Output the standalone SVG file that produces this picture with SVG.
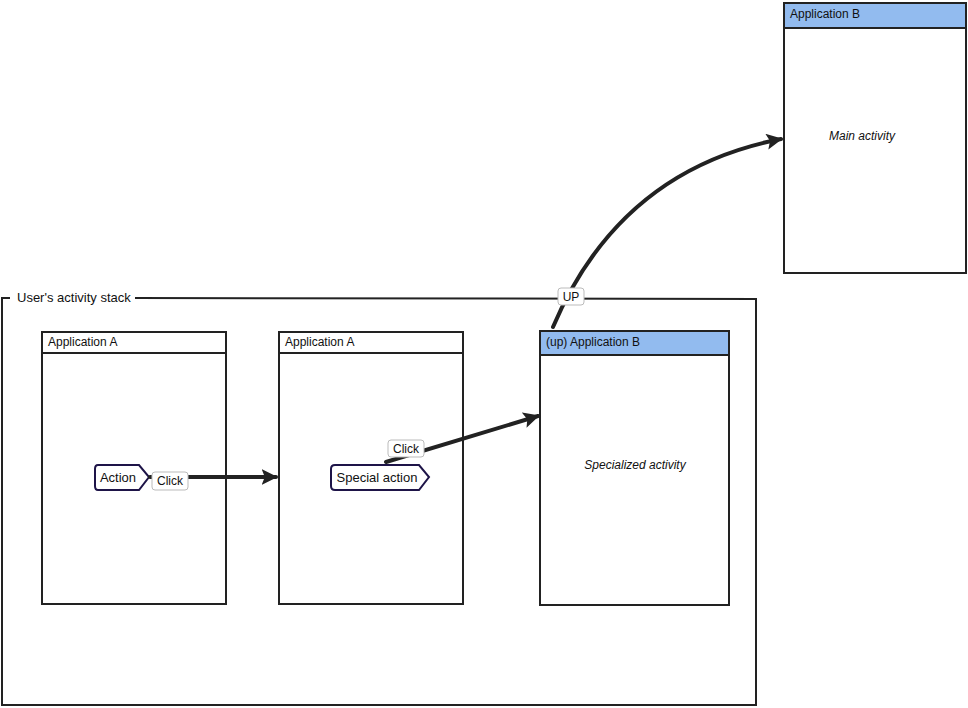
<svg xmlns="http://www.w3.org/2000/svg" width="968" height="708" viewBox="0 0 968 708">
<defs>
<style>
text{font-family:"Liberation Sans",Arial,sans-serif;font-size:12px;fill:#111}
.big{font-size:13px}
.box{fill:#fff;stroke:#222;stroke-width:2}
.hdr{fill:#fff;stroke:#222;stroke-width:2}
.hdrb{fill:#92bbef;stroke:#222;stroke-width:2}
.it{font-style:italic}
.lbl{fill:#fff;stroke:#bbb;stroke-width:1}
.conn{fill:none;stroke:#222;stroke-width:4;stroke-linecap:round}
.btn{fill:#fff;stroke:#1e1448;stroke-width:2}
</style>
<marker id="ah" viewBox="0 0 10 10" refX="9" refY="5" markerWidth="4" markerHeight="4" orient="auto" markerUnits="strokeWidth">
<path d="M0,0 L10,5 L0,10 L2,5 Z" fill="#222"/>
</marker>
</defs>
<rect width="968" height="708" fill="#fff"/>
<g id="stack">
<path d="M10,298 L2,298 L2,705 L756,705 L756,299 L135,298" fill="none" stroke="#222" stroke-width="2"/>
<text class="big" x="17" y="302">User's activity stack</text>
</g>
<g id="appA1">
<rect class="box" x="42" y="332" width="184" height="272"/>
<rect class="hdr" x="42" y="332" width="184" height="21"/>
<text x="48" y="346">Application A</text>
</g>
<g id="appA2">
<rect class="box" x="279" y="332" width="184" height="272"/>
<rect class="hdr" x="279" y="332" width="184" height="21"/>
<text x="285" y="346">Application A</text>
</g>
<g id="appBup">
<rect class="box" x="540" y="331" width="189" height="274"/>
<rect class="hdrb" x="540" y="331" width="189" height="24"/>
<text x="546" y="346">(up) Application B</text>
<text class="it" x="635" y="469" text-anchor="middle">Specialized activity</text>
</g>
<g id="appBmain">
<rect class="box" x="784" y="3" width="182" height="270"/>
<rect class="hdrb" x="784" y="3" width="182" height="25"/>
<text x="790" y="18">Application B</text>
<text class="it" x="862" y="140" text-anchor="middle">Main activity</text>
</g>
<g id="action">
<path class="btn" d="M98,465 L139,465 L149,477 L139,490 L98,490 Q95,490 95,486 L95,469 Q95,465 98,465 Z"/>
<text class="big" x="118" y="482" text-anchor="middle">Action</text>
</g>
<g id="special">
<path class="btn" d="M335,465 L419,465 L429,477 L419,490 L335,490 Q331,490 331,486 L331,469 Q331,465 335,465 Z"/>
<text class="big" x="377" y="482" text-anchor="middle">Special action</text>
</g>
<g id="connectors">
<path class="conn" d="M150,477 L276,477" marker-end="url(#ah)"/>
<path class="conn" d="M386,462 L538,416" marker-end="url(#ah)"/>
<path class="conn" d="M553,327 Q620,170 781,139" marker-end="url(#ah)"/>
<rect class="lbl" x="152" y="472" width="36" height="18" rx="3"/>
<text x="170" y="485" text-anchor="middle">Click</text>
<rect class="lbl" x="388" y="440" width="36" height="17" rx="3"/>
<text x="406" y="453" text-anchor="middle">Click</text>
<rect class="lbl" x="558" y="288" width="26" height="17" rx="3"/>
<text x="571" y="301" text-anchor="middle">UP</text>
</g>
</svg>
